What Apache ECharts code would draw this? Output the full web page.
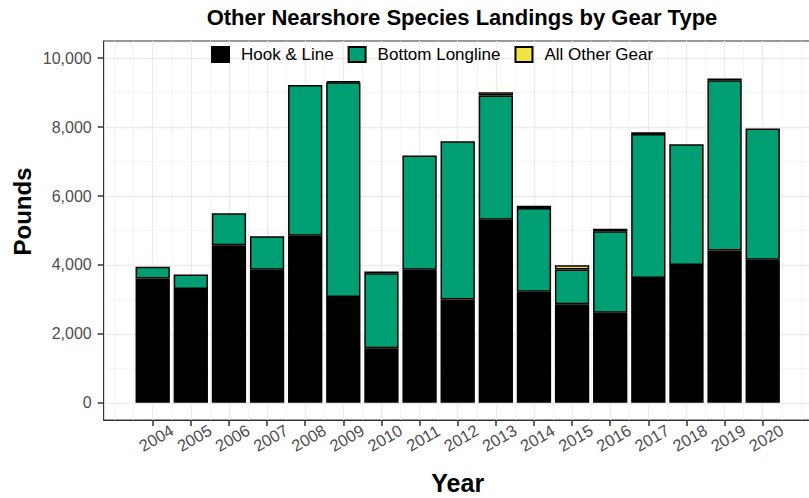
<!DOCTYPE html>
<html>
<head>
<meta charset="utf-8">
<script src="https://cdn.jsdelivr.net/npm/echarts@6/dist/echarts.min.js"></script>
<style>
  html, body { margin: 0; padding: 0; background: #fff; }
  #chart { width: 809px; height: 498px; }
</style>
</head>
<body>
<div id="chart"></div>
<script>
// ---- data (pounds) ----
const years = [2004, 2005, 2006, 2007, 2008, 2009, 2010, 2011, 2012, 2013, 2014, 2015, 2016, 2017, 2018, 2019, 2020];
const hookLine = [3610, 3300, 4570, 3860, 4850, 3070, 1580, 3860, 3000, 5310, 3220, 2860, 2610, 3625, 4000, 4420, 4150];
const bottomLongline = [340, 420, 930, 970, 4370, 6230, 2180, 3320, 4590, 3610, 2430, 1010, 2370, 4175, 3500, 4940, 3810];
const otherGear = [null, null, null, null, null, 40, 50, null, null, 90, 70, 120, 70, 50, null, 50, null];
const yTicks = [0, 2000, 4000, 6000, 8000, 10000];
const yMinorTicks = [1000, 3000, 5000, 7000, 9000];
const xMinorTicks = [2003, 2003.5, 2004.5, 2005.5, 2006.5, 2007.5, 2008.5, 2009.5, 2010.5, 2011.5, 2012.5, 2013.5, 2014.5, 2015.5, 2016.5, 2017.5, 2018.5, 2019.5, 2020.5, 2021];
const seriesNames = ['Hook & Line', 'Bottom Longline', 'All Other Gear'];
const seriesColors = ['#000000', '#009E73', '#F0E442'];

const FONT = '"Liberation Sans", Arial, sans-serif';
const chart = echarts.init(document.getElementById('chart'), null, { renderer: 'svg' });

// value first, year second (so the value dimension is the stacked one)
function toRows(arr) {
  return arr.map((v, i) => [v === null ? '-' : v, years[i]]);
}
const seriesValues = [hookLine, bottomLongline, otherGear];

const X_MIN = 2002.715, X_MAX = 2021.285;
const Y_MIN = -500, Y_MAX = 10500;

const option = {
  animation: false,
  backgroundColor: '#ffffff',
  title: {
    text: 'Other Nearshore Species Landings by Gear Type',
    left: 462, top: 6, padding: 0, textAlign: 'center',
    textStyle: { fontFamily: FONT, fontWeight: 'bold', fontSize: 22, color: '#000' }
  },
  legend: {
    data: seriesNames,
    left: 211, top: 46, padding: 0,
    icon: 'rect', itemWidth: 17, itemHeight: 15, itemGap: 14,
    textStyle: { fontFamily: FONT, fontSize: 17, color: '#000', padding: [0, 0, 0, 7] },
    selectedMode: false
  },
  grid: {
    left: 103.7, right: -2.7, top: 41, bottom: 78,
    outerBoundsMode: 'none',
    show: true, borderColor: '#333333', borderWidth: 1, backgroundColor: '#ffffff',
    containLabel: false
  },
  xAxis: [
    {
      type: 'value', min: X_MIN, max: X_MAX,
      axisLine: { show: true, onZero: false, lineStyle: { color: '#333333', width: 1 } },
      axisTick: { show: true, length: 6, customValues: years, lineStyle: { color: '#333333', width: 1.5 } },
      axisLabel: {
        customValues: years, rotate: 30, align: 'center', verticalAlign: 'middle',
        margin: 20, padding: [0, 0, 0, 8],
        fontFamily: FONT, fontSize: 16.5, color: '#4D4D4D',
        formatter: v => String(Math.round(v))
      },
      splitLine: { show: true, lineStyle: { color: '#EBEBEB', width: 1.3 } },
      name: 'Year', nameLocation: 'middle', nameGap: 63,
      nameTextStyle: { fontFamily: FONT, fontWeight: 'bold', fontSize: 25, color: '#000', verticalAlign: 'middle' },
      z: 1
    },
    {
      type: 'value', min: X_MIN, max: X_MAX, position: 'bottom',
      axisLine: { show: false },
      axisTick: { show: false, customValues: xMinorTicks },
      axisLabel: { show: false, customValues: xMinorTicks },
      splitLine: { show: true, lineStyle: { color: '#F2F2F2', width: 0.8 } }
    }
  ],
  yAxis: [
    {
      type: 'value', min: Y_MIN, max: Y_MAX,
      axisLine: { show: true, onZero: false, lineStyle: { color: '#333333', width: 1 } },
      axisTick: { show: true, length: 6, customValues: yTicks, lineStyle: { color: '#333333', width: 1.5 } },
      axisLabel: { customValues: yTicks, margin: 12, fontFamily: FONT, fontSize: 16, color: '#4D4D4D' },
      splitLine: { show: true, lineStyle: { color: '#EBEBEB', width: 1.3 } }
    },
    {
      type: 'value', min: Y_MIN, max: Y_MAX, position: 'left',
      axisLine: { show: false },
      axisTick: { show: false, customValues: yMinorTicks },
      axisLabel: { show: false, customValues: yMinorTicks },
      splitLine: { show: true, lineStyle: { color: '#F2F2F2', width: 0.8 } }
    }
  ],
  graphic: [
    {
      type: 'text', x: 22, y: 211.5, rotation: Math.PI / 2,
      style: {
        text: 'Pounds', fill: '#000',
        font: 'bold 24px ' + FONT,
        align: 'center', verticalAlign: 'middle'
      }
    }
  ],
  series: seriesNames.map((name, k) => ({
    name: name,
    type: 'bar',
    stack: 'gear',
    xAxisIndex: 0, yAxisIndex: 0,
    encode: { x: 1, y: 0 },
    barWidth: 34.3,
    itemStyle: { color: seriesColors[k], borderColor: '#000000', borderWidth: 1.5 },
    data: toRows(seriesValues[k]),
    z: 3
  }))
};
chart.setOption(option);
</script>
</body>
</html>
